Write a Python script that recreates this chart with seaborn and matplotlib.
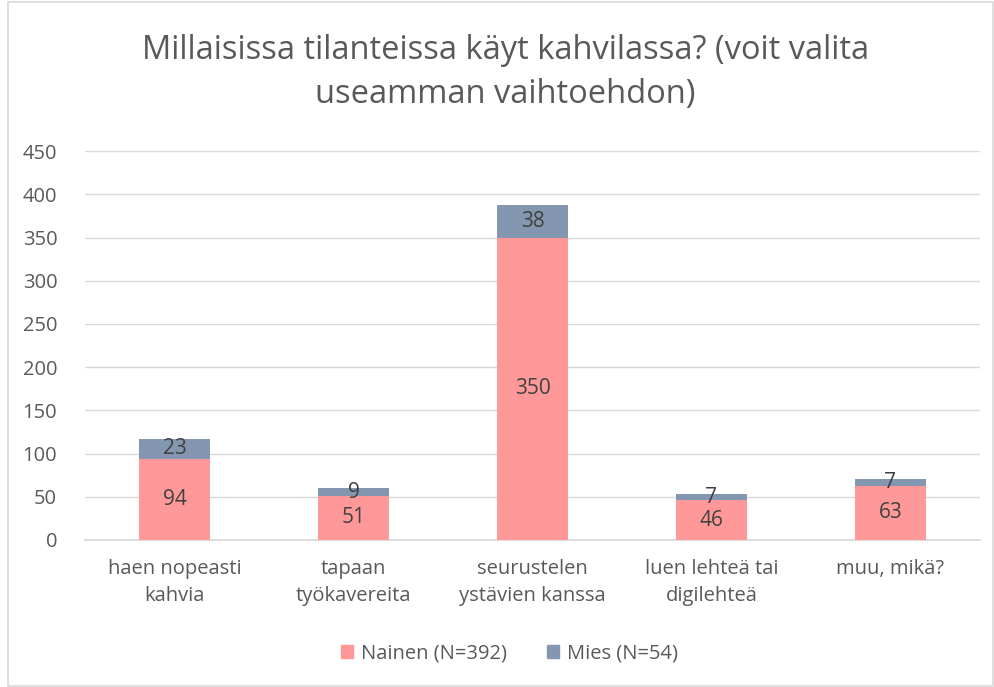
import matplotlib
matplotlib.use("Agg")
import matplotlib.pyplot as plt
import seaborn as sns
import pandas as pd
from matplotlib.patches import Patch, Rectangle

categories = ["haen nopeasti\nkahvia", "tapaan\ntyökavereita", "seurustelen\nystävien kanssa",
              "luen lehteä tai\ndigilehteä", "muu, mikä?"]
nainen = [94, 51, 350, 46, 63]
mies = [23, 9, 38, 7, 7]
series_names = ["Nainen (N=392)", "Mies (N=54)"]
yticks = [0, 50, 100, 150, 200, 250, 300, 350, 400, 450]
title = "Millaisissa tilanteissa käyt kahvilassa? (voit valita\nuseamman vaihtoehdon)"

sns.set_theme(style="white")
plt.rcParams['font.family'] = ['Open Sans', 'DejaVu Sans']

c_nainen = "#FF9999"
c_mies = "#8497B0"
txt = "#595959"

df = pd.DataFrame({"cat": categories, "nainen": nainen, "mies": mies})
df["total"] = df["nainen"] + df["mies"]

fig = plt.figure(figsize=(9.95, 6.87), dpi=100)
ax = fig.add_axes([0.0854, 0.214, 0.8995, 0.566])

sns.barplot(data=df, x="cat", y="total", color=c_mies, width=0.40, ax=ax,
            saturation=1, linewidth=0, zorder=2)
sns.barplot(data=df, x="cat", y="nainen", color=c_nainen, width=0.40, ax=ax,
            saturation=1, linewidth=0, zorder=3)

for i, (n, m) in enumerate(zip(nainen, mies)):
    ax.text(i, n / 2, str(n), ha="center", va="center", fontsize=15, color="#404040", zorder=5)
    ax.text(i, n + m / 2, str(m), ha="center", va="center", fontsize=15, color="#404040", zorder=5)

ax.set_ylim(0, 450)
ax.set_yticks(yticks)
ax.set_xlim(-0.5, 4.5)
ax.yaxis.grid(True, color="#D9D9D9", linewidth=1, zorder=0)
ax.set_axisbelow(True)
for s in ["top", "right", "left"]:
    ax.spines[s].set_visible(False)
ax.spines["bottom"].set_color("#D9D9D9")
ax.set_xlabel("")
ax.set_ylabel("")
ax.tick_params(axis="both", length=0, labelsize=14.5, colors=txt)
ax.tick_params(axis="x", pad=14)
ax.tick_params(axis="y", pad=20)
ax.set_xticks(range(len(categories)))
ax.set_xticklabels(categories, color=txt, fontsize=14.5, linespacing=1.45)

fig.text(0.508, 0.894, title, ha="center", va="center", fontsize=23.5, color=txt, linespacing=1.45)

handles = [Patch(color=c_nainen, label=series_names[0]), Patch(color=c_mies, label=series_names[1])]
leg = fig.legend(handles=handles, loc="center", bbox_to_anchor=(0.512, 0.049), ncol=2, frameon=False,
                 fontsize=14.5, handlelength=0.6, handleheight=0.6, handletextpad=0.4, columnspacing=2.0)
for t in leg.get_texts():
    t.set_color(txt)

fig.patches.append(Rectangle((0.008, 0.002), 0.99, 0.995, transform=fig.transFigure,
                             fill=False, edgecolor="#D9D9D9", linewidth=1.2))

fig.savefig("out.png", dpi=100)
